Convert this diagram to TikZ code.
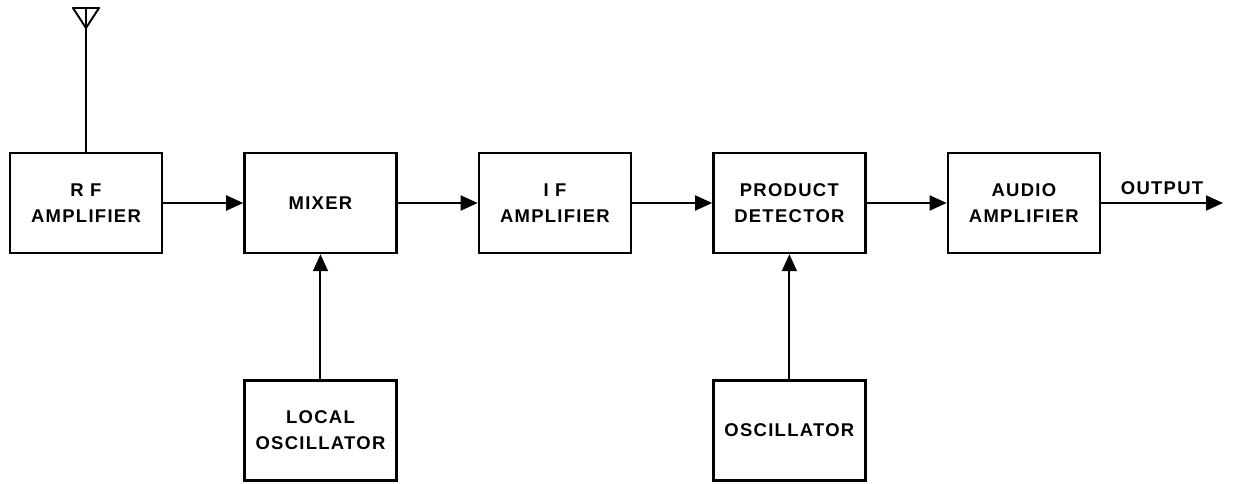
\documentclass[tikz,border=0pt]{standalone}
\usepackage{fontspec}
\newfontfamily\lblfont[LetterSpace=7]{Liberation Sans}
\usetikzlibrary{shapes,arrows,arrows.meta,positioning}

\begin{document}
\begin{tikzpicture}[
    node distance=1.6cm,
    block/.style={draw, line width=1.4pt, minimum width=3.04cm, minimum height=2cm, align=center, font=\lblfont\bfseries\fontsize{10.5}{14.8}\selectfont},
    arrow/.style={-{Triangle[length=0.34cm, width=0.3cm]}, line width=1.1pt}
]
\useasboundingbox (0,0) rectangle (24.72,-9.68);
\node[block] (rf) at (1.72,-4.06) {R F\\AMPLIFIER};
\node[block] (mixer) [right=of rf] {MIXER};
\node[block] (ifamp) [right=of mixer] {I F\\AMPLIFIER};
\node[block] (detector) [right=of ifamp] {PRODUCT\\DETECTOR};
\node[block] (audio) [right=of detector] {AUDIO\\AMPLIFIER};
\node[block] (localosc) [below=2.5cm of mixer] {LOCAL\\OSCILLATOR};
\node[block] (osc) [below=2.5cm of detector] {OSCILLATOR};
\coordinate (out) at (24.46,-4.06);
% antenna
\coordinate (ant) at (1.72,-0.56);
\coordinate (anttop) at (1.72,-0.16);
\draw[line width=1.1pt] (rf.north) -- (anttop);
\draw[line width=1.1pt, line join=round] (ant) -- ++(-0.26,0.4) -- ++(0.52,0) -- cycle;
\draw[arrow] (rf) -- (mixer);
\draw[arrow] (mixer) -- (ifamp);
\draw[arrow] (ifamp) -- (detector);
\draw[arrow] (detector) -- (audio);
\draw[arrow] (audio) -- (out) node[midway, above=1pt, font=\lblfont\bfseries\fontsize{10.5}{14.8}\selectfont] {OUTPUT};
\draw[arrow] (localosc) -- (mixer);
\draw[arrow] (osc) -- (detector);
\end{tikzpicture}
\end{document}
